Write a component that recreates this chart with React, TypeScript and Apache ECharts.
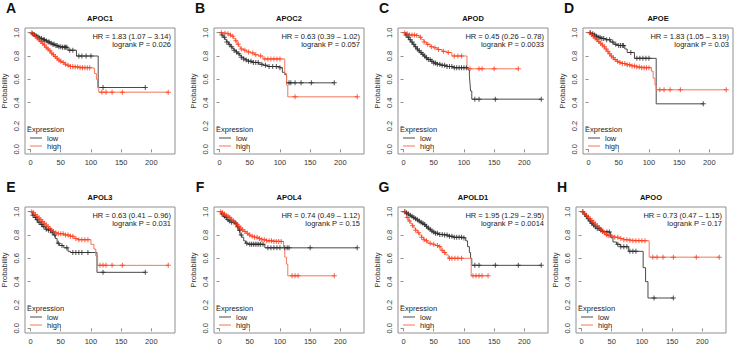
import React, { useEffect, useRef } from "react";
import * as echarts from "echarts";

const FONT = '"Liberation Sans", Arial, Helvetica, sans-serif';

// Kaplan–Meier step points [months, survival probability]
const apoc1Low = [[0,1],[2,0.99],[5,0.985],[8,0.975],[11,0.965],[14,0.955],[17,0.95],[20,0.94],[24,0.93],[28,0.92],[32,0.91],[36,0.9],[40,0.89],[45,0.88],[52,0.875],[62,0.85],[76,0.8],[112,0.53],[190,0.53]];
const apoc1High = [[0,1],[3,0.985],[6,0.97],[9,0.955],[12,0.94],[15,0.925],[18,0.91],[21,0.895],[24,0.875],[27,0.86],[30,0.845],[33,0.825],[36,0.81],[39,0.795],[42,0.78],[45,0.765],[48,0.755],[52,0.745],[56,0.73],[60,0.72],[66,0.71],[74,0.705],[82,0.7],[100,0.695],[106,0.65],[109,0.6],[111,0.53],[113,0.49],[228,0.49]];
const apoc2Low = [[0,1],[3,0.98],[6,0.96],[9,0.94],[12,0.92],[15,0.9],[18,0.88],[21,0.865],[24,0.85],[27,0.835],[30,0.82],[33,0.805],[36,0.79],[40,0.775],[44,0.765],[48,0.755],[55,0.745],[65,0.73],[72,0.72],[80,0.71],[100,0.7],[104,0.66],[108,0.64],[111,0.57],[190,0.57]];
const apoc2High = [[0,1],[6,0.995],[12,0.99],[16,0.98],[20,0.97],[23,0.95],[26,0.93],[29,0.9],[32,0.88],[35,0.86],[40,0.85],[45,0.835],[52,0.825],[58,0.81],[65,0.8],[72,0.775],[108,0.65],[111,0.55],[113,0.45],[228,0.45]];
const apodLow = [[0,1],[3,0.98],[6,0.96],[9,0.94],[12,0.92],[15,0.9],[18,0.88],[21,0.86],[24,0.845],[27,0.83],[30,0.815],[33,0.8],[36,0.785],[40,0.77],[45,0.755],[50,0.74],[56,0.73],[62,0.72],[72,0.71],[82,0.7],[107,0.68],[109,0.63],[110,0.57],[111,0.5],[113,0.43],[228,0.43]];
const apodHigh = [[0,1],[4,0.99],[8,0.98],[20,0.975],[26,0.96],[30,0.94],[34,0.92],[38,0.9],[44,0.88],[50,0.87],[56,0.855],[64,0.84],[72,0.83],[80,0.8],[105,0.69],[190,0.69]];
const apoeLow = [[0,1],[4,0.99],[8,0.98],[12,0.97],[16,0.96],[20,0.95],[28,0.94],[36,0.92],[42,0.9],[48,0.89],[60,0.86],[64,0.83],[76,0.78],[112,0.39],[190,0.39]];
const apoeHigh = [[0,1],[3,0.985],[6,0.97],[9,0.955],[12,0.94],[15,0.925],[18,0.91],[21,0.895],[24,0.88],[27,0.86],[30,0.84],[33,0.82],[36,0.8],[39,0.785],[42,0.77],[46,0.755],[50,0.745],[55,0.735],[62,0.725],[70,0.715],[80,0.705],[88,0.7],[104,0.67],[107,0.61],[110,0.55],[112,0.51],[228,0.51]];
const apol3Low = [[0,1],[3,0.97],[6,0.95],[9,0.93],[12,0.91],[16,0.89],[20,0.87],[25,0.85],[30,0.84],[35,0.82],[38,0.8],[41,0.77],[44,0.73],[48,0.71],[55,0.69],[62,0.66],[66,0.65],[110,0.48],[190,0.48]];
const apol3High = [[0,1],[3,0.99],[6,0.975],[9,0.96],[12,0.945],[15,0.93],[18,0.915],[21,0.9],[24,0.885],[27,0.87],[30,0.855],[33,0.84],[36,0.83],[40,0.82],[45,0.81],[55,0.8],[65,0.79],[72,0.77],[78,0.76],[100,0.72],[105,0.68],[108,0.62],[111,0.54],[228,0.54]];
const apol4Low = [[0,1],[3,0.98],[6,0.96],[9,0.95],[12,0.93],[15,0.92],[20,0.91],[25,0.9],[28,0.87],[31,0.84],[34,0.8],[37,0.78],[40,0.75],[43,0.73],[47,0.72],[75,0.69],[228,0.69]];
const apol4High = [[0,1],[3,0.99],[6,0.98],[9,0.97],[12,0.96],[15,0.95],[18,0.935],[21,0.92],[24,0.905],[27,0.89],[30,0.875],[33,0.86],[36,0.845],[40,0.83],[44,0.815],[48,0.8],[52,0.79],[58,0.78],[64,0.77],[70,0.76],[78,0.75],[90,0.745],[106,0.69],[108,0.61],[111,0.55],[113,0.45],[190,0.45]];
const apold1Low = [[0,1],[3,0.99],[6,0.98],[9,0.97],[12,0.96],[15,0.95],[18,0.94],[21,0.93],[24,0.92],[27,0.91],[30,0.9],[33,0.89],[36,0.875],[39,0.86],[42,0.85],[45,0.835],[48,0.825],[52,0.815],[58,0.805],[66,0.8],[74,0.79],[82,0.78],[100,0.775],[103,0.75],[106,0.7],[109,0.65],[111,0.6],[113,0.54],[228,0.54]];
const apold1High = [[0,1],[3,0.98],[5,0.95],[8,0.92],[11,0.9],[14,0.88],[17,0.86],[20,0.84],[23,0.82],[26,0.8],[30,0.78],[33,0.76],[36,0.75],[40,0.73],[46,0.72],[52,0.71],[58,0.7],[62,0.67],[66,0.65],[70,0.63],[74,0.6],[112,0.45],[140,0.45]];
const apooLow = [[0,1],[3,0.98],[6,0.96],[9,0.94],[12,0.92],[15,0.9],[18,0.885],[22,0.87],[26,0.855],[30,0.84],[34,0.83],[40,0.825],[48,0.78],[52,0.74],[58,0.72],[64,0.7],[78,0.66],[102,0.52],[106,0.4],[110,0.26],[152,0.26]];
const apooHigh = [[0,1],[3,0.985],[6,0.97],[9,0.955],[12,0.94],[15,0.925],[18,0.91],[21,0.895],[24,0.88],[27,0.865],[30,0.85],[33,0.835],[36,0.82],[39,0.805],[42,0.795],[48,0.79],[55,0.78],[62,0.77],[70,0.76],[78,0.755],[85,0.75],[112,0.61],[228,0.61]];

// Censoring times (months)
const apoc1LowCens = [3,6,9,12,15,18,21,23,26,29,31,34,37,39,42,44,47,50,53,56,58,60,65,70,80,85,92,100,120,190];
const apoc1HighCens = [2,5,8,11,14,17,20,23,26,29,32,35,38,41,44,47,50,54,58,62,66,70,74,78,82,86,90,94,98,118,125,135,152,228];
const apoc2LowCens = [4,8,12,16,20,24,28,32,36,40,44,48,52,56,60,64,70,76,82,88,94,100,115,118,125,135,152,190];
const apoc2HighCens = [3,9,14,18,22,27,31,36,42,48,55,60,68,75,80,85,90,95,100,125,228];
const apodLowCens = [4,8,11,14,17,20,23,26,29,32,35,38,41,44,47,50,53,56,60,64,68,72,76,80,84,88,92,96,100,104,118,125,152,228];
const apodHighCens = [2,6,10,14,18,22,28,34,40,46,52,58,66,74,84,90,96,110,125,130,150,190];
const apoeLowCens = [3,7,10,13,16,19,22,25,30,35,40,45,50,53,56,58,70,80,85,90,95,100,190];
const apoeHighCens = [2,5,8,11,14,17,20,23,26,29,32,35,38,41,44,48,52,56,60,64,68,72,76,80,84,88,92,96,100,118,125,135,152,228];
const apol3LowCens = [4,8,11,14,18,22,26,30,33,36,40,46,52,60,70,75,80,85,95,120,190];
const apol3HighCens = [2,5,8,11,14,17,20,23,26,29,32,35,38,42,46,50,54,58,62,66,70,75,80,85,90,95,115,120,125,135,152,228];
const apol4LowCens = [4,8,11,14,17,20,24,27,30,33,36,45,50,53,56,59,62,65,68,72,80,85,90,95,100,108,112,115,150,228];
const apol4HighCens = [2,5,8,11,14,17,20,23,26,29,32,35,38,42,46,50,54,58,62,66,70,74,78,82,86,90,94,98,102,120,125,130,190];
const apold1LowCens = [2,5,8,11,14,17,20,23,26,29,32,35,38,41,44,47,50,53,56,60,64,68,72,76,80,84,88,92,96,100,118,125,152,190,228];
const apold1HighCens = [2,6,10,15,20,25,30,34,38,44,50,56,60,64,68,76,80,85,90,96,115,120,125,130,140];
const apooLowCens = [2,5,8,11,14,17,20,23,26,29,32,35,42,46,60,65,70,75,80,85,90,120,152];
const apooHighCens = [2,5,8,11,14,17,20,23,26,29,32,35,38,41,44,47,50,55,60,65,70,75,80,85,90,95,100,105,118,125,135,152,190,228];

const letters = ["A", "B", "C", "D", "E", "F", "G", "H"];
const genes = ["APOC1", "APOC2", "APOD", "APOE", "APOL3", "APOL4", "APOLD1", "APOO"];
const hazardRatios = ["1.83 (1.07 \u2013 3.14)", "0.63 (0.39 \u2013 1.02)", "0.45 (0.26 \u2013 0.78)", "1.83 (1.05 \u2013 3.19)", "0.63 (0.41 \u2013 0.96)", "0.74 (0.49 \u2013 1.12)", "1.95 (1.29 \u2013 2.95)", "0.73 (0.47 \u2013 1.15)"];
const logrankP = ["0.026", "0.057", "0.0033", "0.03", "0.031", "0.15", "0.0014", "0.17"];
const groups = ["low", "high"];
const lowCurves = [apoc1Low, apoc2Low, apodLow, apoeLow, apol3Low, apol4Low, apold1Low, apooLow];
const highCurves = [apoc1High, apoc2High, apodHigh, apoeHigh, apol3High, apol4High, apold1High, apooHigh];
const lowCensors = [apoc1LowCens, apoc2LowCens, apodLowCens, apoeLowCens, apol3LowCens, apol4LowCens, apold1LowCens, apooLowCens];
const highCensors = [apoc1HighCens, apoc2HighCens, apodHighCens, apoeHighCens, apol3HighCens, apol4HighCens, apold1HighCens, apooHighCens];
const xTicks = [0, 50, 100, 150, 200];
const yTicks = [0, 0.2, 0.4, 0.6, 0.8, 1.0];

// panel geometry
const lefts = [25, 214, 398, 583, 25, 214, 398, 576];
const tops = [28, 28, 28, 28, 207, 207, 207, 207];
const W = 150;
const H = 126;

const TEXT = "#222222";
const LOW_LINE = "#4a4a4a";
const LOW_MARK = "#262626";
const HIGH_LINE = "#f4765a";
const HIGH_MARK = "#ff3414";
const FRAME = "#8f8f8f";

const PLUS = "path://M4,0H6V4H10V6H6V10H4V6H0V4H4Z";
const DASH = "path://M0,0H12V1H0Z";

function survAt(curve: number[][], t: number): number {
  let s = curve[0][1];
  for (const [ti, si] of curve) {
    if (ti <= t) s = si;
    else break;
  }
  return s;
}

function label(text: string, x: number, y: number, align: string, extra: any = {}) {
  return {
    type: "text",
    x,
    y,
    silent: true,
    style: {
      text,
      fill: TEXT,
      fontSize: 7.5,
      fontFamily: FONT,
      textAlign: align,
      textVerticalAlign: "middle",
      ...extra,
    },
  };
}

function buildOption() {
  const grid: any[] = [];
  const xAxis: any[] = [];
  const yAxis: any[] = [];
  const series: any[] = [];
  const graphic: any[] = [];
  const legend: any[] = [];
  const title: any[] = [];

  genes.forEach((gene, i) => {
    const left = lefts[i];
    const top = tops[i];
    grid.push({
      left, top, width: W, height: H,
      show: true, borderColor: FRAME, borderWidth: 1,
      backgroundColor: "transparent",
      outerBoundsMode: "none",
    });
    xAxis.push({
      gridIndex: i, type: "value", min: -9.2, max: 239.2,
      axisLine: { show: false }, splitLine: { show: false },
      axisTick: { show: true, length: 3, customValues: xTicks, lineStyle: { color: FRAME, width: 1 } },
      axisLabel: { customValues: xTicks, fontSize: 7.5, fontFamily: FONT, color: "#333", margin: 4 },
    });
    yAxis.push({
      gridIndex: i, type: "value", min: -0.04, max: 1.04,
      axisLine: { show: false }, splitLine: { show: false },
      axisTick: { show: true, length: 3, customValues: yTicks, lineStyle: { color: FRAME, width: 1 } },
      axisLabel: {
        customValues: yTicks, fontSize: 7.5, fontFamily: FONT, color: "#333", margin: 5, rotate: 90,
        formatter: (v: number) => v.toFixed(1),
      },
      name: "Probability", nameLocation: "middle", nameGap: 17, nameRotate: 90,
      nameTextStyle: { fontSize: 7.5, fontFamily: FONT, color: "#333" },
    });

    const lineBase = { type: "line", step: "end", showSymbol: false, xAxisIndex: i, yAxisIndex: i, silent: true, z: 2 };
    series.push({ ...lineBase, name: groups[0], color: LOW_LINE, data: lowCurves[i], lineStyle: { color: LOW_LINE, width: 1 } });
    series.push({ ...lineBase, name: groups[1], color: HIGH_LINE, data: highCurves[i], lineStyle: { color: HIGH_LINE, width: 1 } });
    series.push({
      type: "scatter", xAxisIndex: i, yAxisIndex: i, silent: true, z: 3,
      symbol: PLUS, symbolSize: 5, itemStyle: { color: LOW_MARK },
      data: lowCensors[i].map((t) => [t, survAt(lowCurves[i], t)]),
    });
    series.push({
      type: "scatter", xAxisIndex: i, yAxisIndex: i, silent: true, z: 3,
      symbol: PLUS, symbolSize: 5, itemStyle: { color: HIGH_MARK },
      data: highCensors[i].map((t) => [t, survAt(highCurves[i], t)]),
    });

    const bottom = top + H;
    const right = left + W;
    title.push({
      text: "Expression",
      left: left + 2,
      top: bottom - 29,
      padding: 0,
      textStyle: { fontSize: 7.5, fontWeight: "normal", fontFamily: FONT, color: TEXT },
    });
    legend.push({
      left: left + 5,
      top: bottom - 20,
      orient: "vertical",
      data: groups,
      icon: DASH,
      itemWidth: 12,
      itemHeight: 1,
      itemGap: 0,
      padding: 0,
      selectedMode: false,
      textStyle: { fontSize: 7.5, fontFamily: FONT, color: TEXT, padding: [0, 0, 0, 0], lineHeight: 8 },
    });
    graphic.push(
      label(letters[i], left - 14, top - 20, "center", { fontSize: 14, fontWeight: "bold", fill: "#111" }),
      label(gene, left + W / 2, top - 10, "center", { fontWeight: "bold", fill: "#111" }),
      label("HR = " + hazardRatios[i], right - 4, top + 8, "right"),
      label("logrank P = " + logrankP[i], right - 4, top + 16.5, "right"),
    );
  });

  return {
    animation: false,
    backgroundColor: "#ffffff",
    textStyle: { fontFamily: FONT },
    title, grid, xAxis, yAxis, series, graphic, legend,
  };
}

export default function App() {
  const ref = useRef<HTMLDivElement>(null);
  useEffect(() => {
    if (!ref.current) return;
    const chart = echarts.init(ref.current, undefined, { renderer: "svg" });
    chart.setOption(buildOption());
    return () => chart.dispose();
  }, []);
  return (
    <div
      ref={ref}
      style={{ position: "fixed", left: 0, top: 0, width: 734, height: 350, background: "#fff" }}
    />
  );
}
